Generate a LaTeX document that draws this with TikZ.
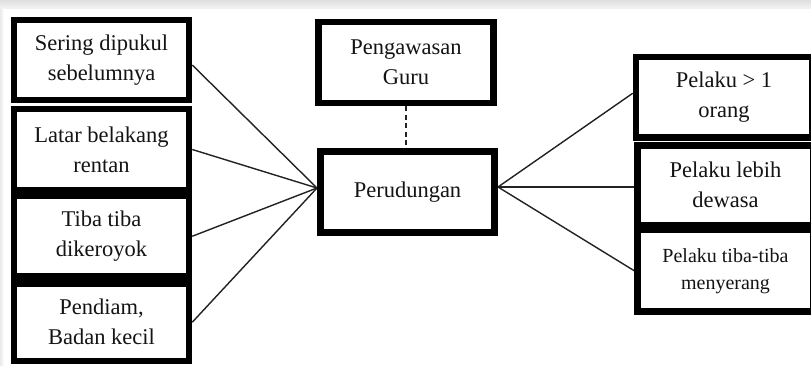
\documentclass[tikz,border=0pt]{standalone}
\usepackage{fontspec}
\setmainfont{Liberation Serif}
\usetikzlibrary{backgrounds}
\definecolor{inkc}{HTML}{141414}
\definecolor{linkc}{HTML}{222222}
\definecolor{stripc}{HTML}{EAEAEA}
\begin{document}
\begin{tikzpicture}[x=1pt,y=-1pt,
  box/.style={draw=black, line width=6.5pt, fill=white, rectangle, inner sep=0pt,
    align=center, text=inkc, font=\fontsize{22.5}{30}\selectfont},
  leftbox/.style={box, minimum width=175pt},
  midbox/.style={box, minimum width=175pt, minimum height=81pt},
  rightbox/.style={box, minimum width=176pt},
  link/.style={draw=linkc, line width=1.4pt},
  guide/.style={draw=linkc, line width=1.4pt, dash pattern=on 5pt off 3.5pt}]
  \useasboundingbox (0,0) rectangle (811,365);

  % causes on the left
  \node[leftbox, minimum height=80pt] (l1) at (101.5,60) {Sering dipukul\\sebelumnya};
  \node[leftbox, minimum height=81pt] (l2) at (101.5,149.5) {Latar belakang\\rentan};
  \node[leftbox, minimum height=80.5pt] (l3) at (101.5,236.25) {Tiba tiba\\dikeroyok};
  \node[leftbox, minimum height=77.5pt] (l4) at (101.5,322.25) {Pendiam,\\Badan kecil};

  % centre: the event and its supervision
  \node[midbox] (sup) at (406,62.5) {Pengawasan\\Guru};
  \node[midbox, line width=7pt, minimum width=174pt] (bul) at (407.5,192) {Perudungan};

  % perpetrator traits on the right
  \node[rightbox, minimum height=80.5pt] (r1) at (724,97.25) {Pelaku > 1\\orang};
  \node[rightbox, minimum height=79.5pt] (r2) at (725.5,185.25) {Pelaku lebih\\dewasa};
  \node[rightbox, minimum height=81.5pt, font=\fontsize{20}{27}\selectfont] (r3) at (725.5,270.75) {Pelaku tiba-tiba\\menyerang};

  \begin{scope}[on background layer]
    % page and the pale strip along its top and left edges
    \fill[white] (0,0) rectangle (811,365);
    \shade[top color=stripc!90!gray, bottom color=stripc!60!white] (0,0) rectangle (811,8);
    \shade[left color=stripc, right color=white] (0,8) rectangle (4,365);
    % connectors, kept behind the thick frames
    \coordinate (hubL) at ([yshift=4pt]bul.west);
    \coordinate (hubR) at ([yshift=5pt]bul.east);
    \draw[link] ([yshift=-5pt]l1.east) -- (hubL);
    \draw[link] (l2.east) -- (hubL);
    \draw[link] (l3.east) -- (hubL);
    \draw[link] (l4.east) -- (hubL);
    \draw[link] (hubR) -- ([yshift=4pt]r1.west);
    \draw[link] (hubR) -- ([yshift=-1.75pt]r2.west);
    \draw[link] (hubR) -- (r3.west);
    \draw[guide] (sup.south) -- (bul.north -| sup.south);
  \end{scope}
\end{tikzpicture}
\end{document}
